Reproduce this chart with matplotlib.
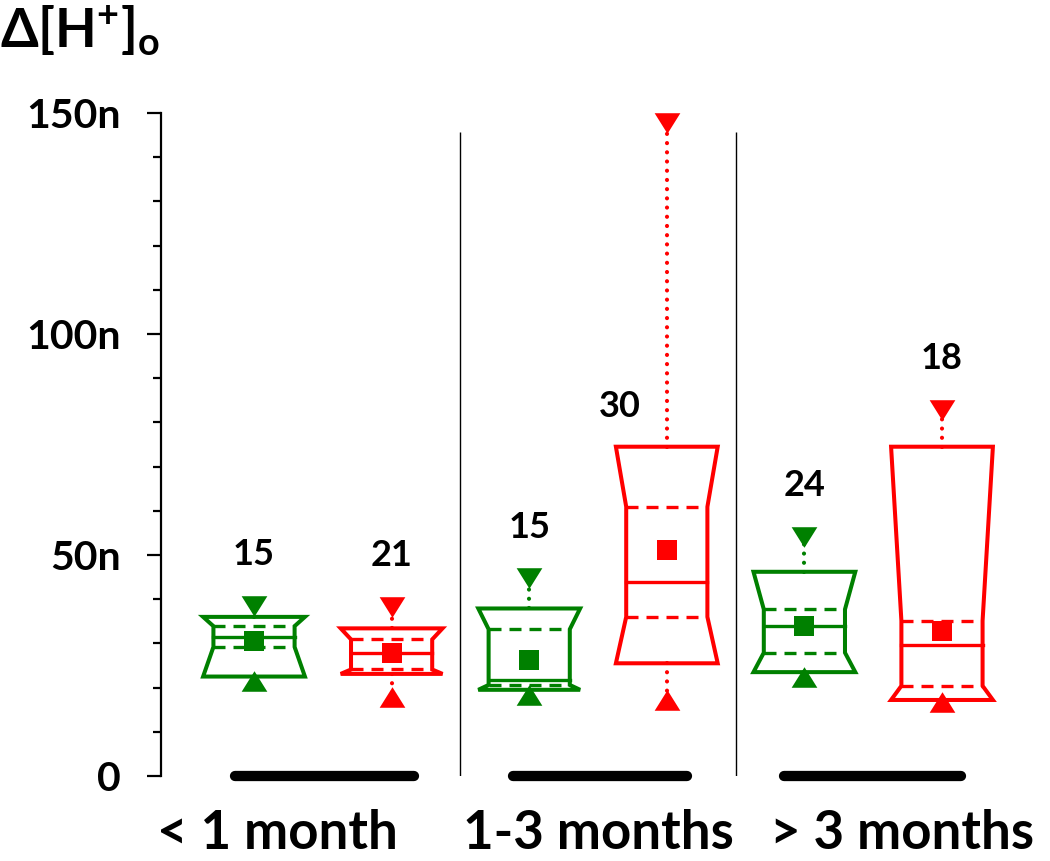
import numpy as np
import matplotlib
matplotlib.use("Agg")
import matplotlib.pyplot as plt
from matplotlib.ticker import MultipleLocator, FuncFormatter

plt.rcParams['font.family'] = ['Lato', 'DejaVu Sans']
plt.rcParams['font.weight'] = 'bold'
plt.rcParams['mathtext.fontset'] = 'custom'
plt.rcParams['mathtext.rm'] = 'Lato'
plt.rcParams['mathtext.bf'] = 'Lato:bold'

# data (units of n), boxes left to right
groups = ["< 1 month", "1-3 months", "> 3 months"]
counts = [15, 21, 15, 30, 24, 18]
q3 = [36.0, 33.4, 37.9, 74.5, 46.2, 74.5]
ci_hi = [33.9, 30.9, 33.2, 60.9, 37.7, 35.1]
median = [31.4, 27.8, 21.7, 44.0, 34.0, 29.6]
ci_lo = [29.2, 24.1, 20.6, 36.0, 27.9, 20.4]
q1 = [22.5, 23.1, 19.5, 25.5, 23.5, 17.2]
mean = [30.5, 27.8, 26.2, 51.1, 33.9, 32.8]
whisk_hi = [38.5, 38.3, 44.7, 147.7, 54.1, 82.8]
whisk_lo = [21.6, 17.9, 18.3, 17.3, 22.3, 16.8]

GREEN = "#008000"
RED = "#ff0000"
colors = [GREEN, RED] * 3
positions = np.arange(1, 7)

BOX_W = 0.74
NOTCH = 0.075
DASH = (0, (3.6, 2.4))
DOT = (0, (0.01, 2.2))

tri_down = [(-1, 0.8), (1, 0.8), (0, -0.8)]
tri_up = [(-1, -0.8), (1, -0.8), (0, 0.8)]

fig = plt.figure(figsize=(10.5, 8.61), dpi=100)
ax = fig.add_axes([161 / 1050, 85 / 861, 889 / 1050, 663 / 861])

for i, c in enumerate(positions):
    col = colors[i]
    l, r = c - BOX_W / 2, c + BOX_W / 2
    li, ri = l + NOTCH, r - NOTCH
    xs = [l, r, ri, ri, r, l, li, li]
    ys = [q3[i], q3[i], ci_hi[i], ci_lo[i], q1[i], q1[i], ci_lo[i], ci_hi[i]]
    ax.add_patch(plt.Polygon(list(zip(xs, ys)), closed=True, fill=False,
                             edgecolor=col, lw=2.9, joinstyle='miter', zorder=3))
    ax.plot([li, ri], [median[i]] * 2, color=col, lw=2.4, zorder=3)
    for v in (ci_hi[i], ci_lo[i]):
        ax.plot([li, ri], [v, v], color=col, lw=2.4, linestyle=DASH, zorder=3)
    # whiskers
    ax.plot([c, c], [q3[i], whisk_hi[i]], color=col, lw=3, linestyle=DOT,
            dash_capstyle='round', zorder=2, clip_on=False)
    ax.plot([c, c], [q1[i], whisk_lo[i]], color=col, lw=3, linestyle=DOT,
            dash_capstyle='round', zorder=2, clip_on=False)
    ax.plot(c, whisk_hi[i], marker=tri_down, ms=18.5, mew=0, color=col, zorder=4, clip_on=False)
    ax.plot(c, whisk_lo[i], marker=tri_up, ms=18.5, mew=0, color=col, zorder=4, clip_on=False)
    ax.plot(c, mean[i], marker='s', ms=14, mew=0, color=col, zorder=5)
    # sample size
    if whisk_hi[i] > 100:
        ax.text(c - 0.34, q3[i] + 6.7, str(counts[i]), ha='center', va='baseline',
                fontsize=26, fontweight='bold')
    else:
        ax.text(c, whisk_hi[i] + 9.2, str(counts[i]), ha='center', va='baseline',
                fontsize=26, fontweight='bold')

# group separators and bars
ax.vlines([2.5, 4.5], 0, 145.7, color='black', lw=1.0, zorder=1)
bar_spans = [(0.86, 2.16), (2.88, 4.15), (4.85, 6.14)]
for a, b in bar_spans:
    ax.plot([a, b], [0, 0], color='black', lw=7.4, solid_capstyle='round',
            zorder=6, clip_on=False)

label_x = [1.17, 3.5, 5.71]
for x, g in zip(label_x, groups):
    ax.text(x, -16.5, g, ha='center', va='baseline', fontsize=38, fontweight='bold')

ax.set_xlim(0.324, 6.785)
ax.set_ylim(0, 150)
for s in ('top', 'right', 'bottom'):
    ax.spines[s].set_visible(False)
ax.spines['left'].set_linewidth(1.6)
ax.set_xticks([])
ax.yaxis.set_major_locator(MultipleLocator(50))
ax.yaxis.set_minor_locator(MultipleLocator(10))
ax.yaxis.set_major_formatter(FuncFormatter(lambda v, p: "0" if v == 0 else f"{int(v)}n"))
ax.tick_params(axis='y', which='major', length=10, width=1.6, pad=19, labelsize=29.5)
ax.tick_params(axis='y', which='minor', length=6, width=1.6)
for t in ax.get_yticklabels():
    t.set_fontweight('bold')

fig.text(0.0, 1 - 48 / 861, r'$\mathbf{\Delta[H^{+}]_{o}}$', ha='left', va='baseline',
         fontsize=39)

fig.savefig("out.png", dpi=100)
